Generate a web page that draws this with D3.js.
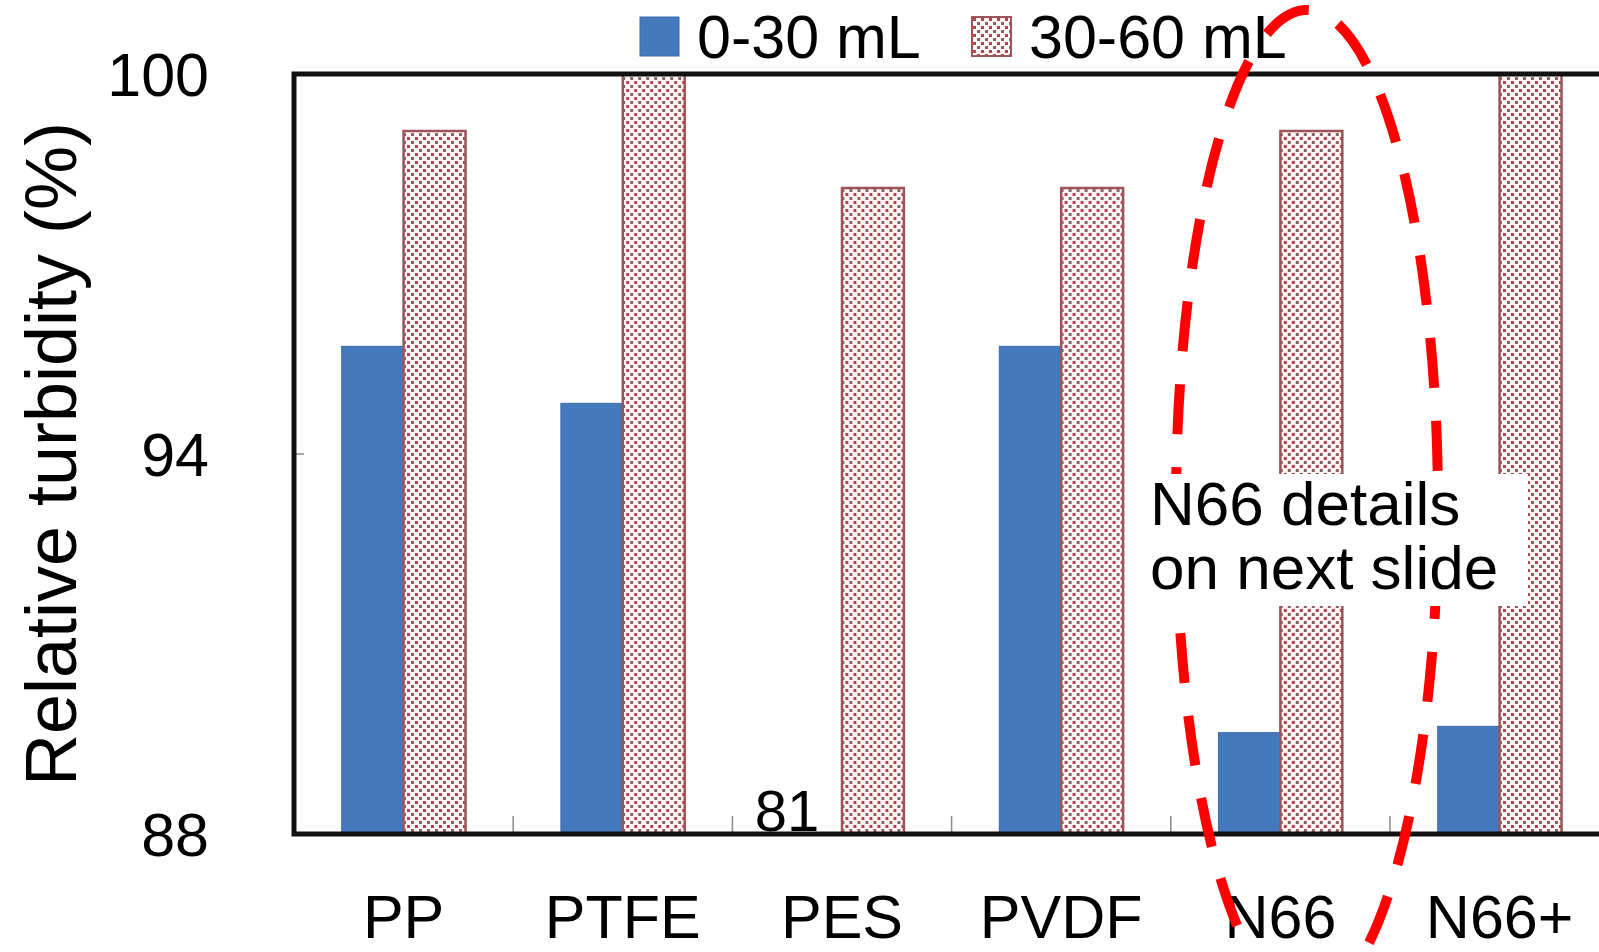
<!DOCTYPE html>
<html>
<head>
<meta charset="utf-8">
<script src="https://cdn.jsdelivr.net/npm/d3@7/dist/d3.min.js"></script>
<style>
  body { margin: 0; background: #fff; }
  svg { display: block; font-family: "Liberation Sans", Arial, sans-serif; }
</style>
</head>
<body>
<svg id="chart" width="1599" height="952"></svg>
<script>
// chart values
var categories = ['PP', 'PTFE', 'PES', 'PVDF', 'N66', 'N66+'];
var seriesNames = ['0-30 mL', '30-60 mL'];
var first30 = [95.7, 94.8, 81, 95.7, 89.6, 89.7];
var second30 = [99.1, 100, 98.2, 98.2, 99.1, 100];
var yTicks = [88, 94, 100];

(function() {
	'use strict';

	var svg = d3.select('#chart');
	var left = 294, top = 74, bottom = 834;
	var step = 219.2;

	var x0 = d3.scaleBand()
		.domain(categories)
		.range([left, left + step * categories.length])
		.padding(0);

	// two bars in the middle of each band, ~62px each
	var x1 = d3.scaleBand()
		.domain(seriesNames)
		.range([0, x0.bandwidth()])
		.paddingInner(0)
		.paddingOuter(0.77);

	var y = d3.scaleLinear()
		.domain([88, 100])
		.range([bottom, top])
		.clamp(true);

	// dotted fill for the second series
	var defs = svg.append('defs');
	var pat = defs.append('pattern')
		.attr('id', 'dots')
		.attr('patternUnits', 'userSpaceOnUse')
		.attr('width', 8)
		.attr('height', 8);
	pat.append('rect').attr('width', 8).attr('height', 8).attr('fill', '#fff8f8');
	pat.append('rect').attr('x', 1).attr('y', 1).attr('width', 3).attr('height', 3).attr('fill', '#c03e4c');
	pat.append('rect').attr('x', 5).attr('y', 5).attr('width', 3).attr('height', 3).attr('fill', '#8a6264');

	defs.append('clipPath').attr('id', 'plotclip')
		.append('rect')
		.attr('x', left).attr('y', top)
		.attr('width', step * categories.length).attr('height', bottom - top);

	var rows = categories.map(function(c, i) {
		return { cat: c, vals: [first30[i], second30[i]] };
	});

	var plot = svg.append('g').attr('clip-path', 'url(#plotclip)');

	var groups = plot.selectAll('g.cat')
		.data(rows)
		.enter()
		.append('g')
		.attr('class', 'cat')
		.attr('transform', function(d) { return 'translate(' + x0(d.cat) + ',0)'; });

	groups.selectAll('rect')
		.data(function(d) {
			return d.vals.map(function(v, k) { return { s: seriesNames[k], v: v, k: k }; });
		})
		.enter()
		.append('rect')
		.attr('x', function(d) { return x1(d.s); })
		.attr('width', x1.bandwidth())
		.attr('y', function(d) { return y(d.v); })
		.attr('height', function(d) { return bottom - y(d.v); })
		.attr('fill', function(d) { return d.k === 0 ? '#4579bd' : 'url(#dots)'; })
		.attr('stroke', function(d) { return d.k === 0 ? '#3d6cab' : '#9c5458'; })
		.attr('stroke-width', function(d) { return d.k === 0 ? 1 : 2.5; });

	// the PES value sits below the axis, so it is written instead
	var offIdx = first30.findIndex(function(v) { return v < y.domain()[0]; });
	if (offIdx >= 0) {
		svg.append('text')
			.attr('x', x0(categories[offIdx]) + x1(seriesNames[0]) + x1.bandwidth() / 2 - 24)
			.attr('y', bottom - 3)
			.attr('text-anchor', 'middle')
			.attr('font-size', 58)
			.attr('fill', '#000')
			.text(first30[offIdx]);
	}

	// small gray ticks between categories
	svg.selectAll('line.xtick')
		.data(categories.slice(1))
		.enter()
		.append('line')
		.attr('class', 'xtick')
		.attr('x1', function(d) { return x0(d); })
		.attr('x2', function(d) { return x0(d); })
		.attr('y1', bottom)
		.attr('y2', bottom - 18)
		.attr('stroke', '#8a8a8a')
		.attr('stroke-width', 1.5);

	svg.selectAll('line.ytick')
		.data(yTicks)
		.enter()
		.append('line')
		.attr('class', 'ytick')
		.attr('x1', left)
		.attr('x2', left + 10)
		.attr('y1', function(d) { return y(d); })
		.attr('y2', function(d) { return y(d); })
		.attr('stroke', '#8a8a8a')
		.attr('stroke-width', 1.5);

	// frame
	svg.append('rect')
		.attr('x', left)
		.attr('y', top)
		.attr('width', step * categories.length)
		.attr('height', bottom - top)
		.attr('fill', 'none')
		.attr('stroke', '#111')
		.attr('stroke-width', 5);

	// y tick labels
	svg.selectAll('text.ylab')
		.data(yTicks)
		.enter()
		.append('text')
		.attr('class', 'ylab')
		.attr('x', 209)
		.attr('y', function(d) { return y(d) + 22; })
		.attr('text-anchor', 'end')
		.attr('font-size', 61)
		.attr('fill', '#000')
		.text(function(d) { return d; });

	// x labels
	svg.selectAll('text.xlab')
		.data(categories)
		.enter()
		.append('text')
		.attr('class', 'xlab')
		.attr('x', function(d) { return x0(d) + x0.bandwidth() / 2; })
		.attr('y', 938)
		.attr('text-anchor', 'middle')
		.attr('font-size', 61)
		.attr('fill', '#000')
		.text(function(d) { return d; });

	svg.append('text')
		.attr('transform', 'translate(76,454) rotate(-90)')
		.attr('text-anchor', 'middle')
		.attr('font-size', 72)
		.attr('fill', '#000')
		.text('Relative turbidity (%)');

	// legend
	var legendX = [640, 972];
	var leg = svg.selectAll('g.leg')
		.data(seriesNames)
		.enter()
		.append('g')
		.attr('class', 'leg')
		.attr('transform', function(d, i) { return 'translate(' + legendX[i] + ',17)'; });
	leg.append('rect')
		.attr('width', 39)
		.attr('height', 39)
		.attr('fill', function(d, i) { return i === 0 ? '#4579bd' : 'url(#dots)'; })
		.attr('stroke', function(d, i) { return i === 0 ? '#3d6cab' : '#9c5458'; })
		.attr('stroke-width', function(d, i) { return i === 0 ? 1 : 2; });
	leg.append('text')
		.attr('x', 57)
		.attr('y', 41)
		.attr('font-size', 61)
		.attr('fill', '#000')
		.text(function(d) { return d; });

	// red dashed highlight round N66
	svg.append('ellipse')
		.attr('cx', 1307)
		.attr('cy', 506)
		.attr('rx', 131)
		.attr('ry', 496)
		.attr('fill', 'none')
		.attr('stroke', '#ff0000')
		.attr('stroke-width', 10)
		.attr('stroke-dasharray', '50 33')
		.attr('stroke-dashoffset', 20);

	svg.append('rect')
		.attr('x', 1140)
		.attr('y', 474)
		.attr('width', 388)
		.attr('height', 132)
		.attr('fill', '#fff');

	var note = svg.append('text')
		.attr('x', 1150)
		.attr('font-size', 62)
		.attr('fill', '#000');
	note.append('tspan').attr('x', 1150).attr('y', 525).text('N66 details');
	note.append('tspan').attr('x', 1150).attr('y', 589).text('on next slide');
}());
</script>
</body>
</html>
